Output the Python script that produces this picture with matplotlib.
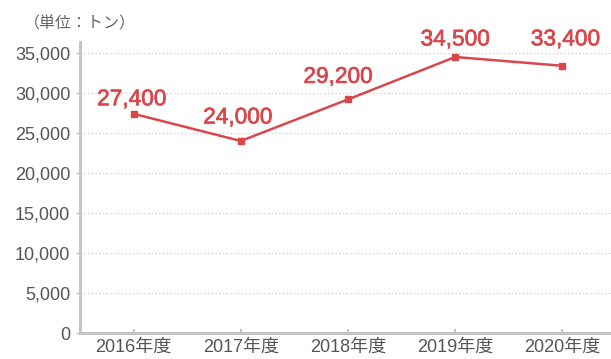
import matplotlib
matplotlib.use("Agg")
import matplotlib.pyplot as plt
import matplotlib.patheffects as pe
from matplotlib.ticker import FuncFormatter

plt.rcParams['font.family'] = ['Liberation Sans', 'Noto Sans CJK JP', 'DejaVu Sans']

# Data
years = ["2016年度", "2017年度", "2018年度", "2019年度", "2020年度"]
tonnes = [27400, 24000, 29200, 34500, 33400]
y_ticks = [0, 5000, 10000, 15000, 20000, 25000, 30000, 35000]
unit_label = "（単位：トン）"

# Label offsets (points) from each point to its value label centre
label_offsets = [(-1.4, 10.8), (-2.2, 17.3), (-7.2, 16.6), (0, 13.0), (2.2, 19.4)]

RED = "#d9474b"
GRAY_TXT = "#555555"
AXIS_GRAY = "#c4c4c4"

fig = plt.figure(figsize=(6.11, 3.59), dpi=100)
ax = fig.add_axes([80 / 611, 26 / 359, 536 / 611, 291 / 359])

x = list(range(len(years)))
ax.plot(x, tonnes, color=RED, linewidth=1.8, marker='s', markersize=4.2,
        markerfacecolor=RED, markeredgecolor=RED, zorder=3, clip_on=False)

for xi, v, (dx, dy) in zip(x, tonnes, label_offsets):
    ax.annotate(f"{v:,}", (xi, v), xytext=(dx, dy), textcoords='offset points',
                ha='center', va='center', color=RED, fontsize=16.3,
                annotation_clip=False,
                path_effects=[pe.withStroke(linewidth=0.5, foreground=RED)])

ax.set_xlim(-0.5, 4.5)
ax.set_ylim(0, 36375)
ax.set_yticks(y_ticks)
ax.yaxis.set_major_formatter(FuncFormatter(lambda v, p: f"{int(v):,}"))
ax.set_xticks(x)
ax.set_xticklabels(years)

ax.grid(axis='y', linestyle=(0, (1, 2)), color='#c8c8c8', linewidth=0.9)
ax.set_axisbelow(True)

for side in ('top', 'right'):
    ax.spines[side].set_visible(False)
for side in ('left', 'bottom'):
    ax.spines[side].set_color(AXIS_GRAY)
    ax.spines[side].set_linewidth(2.2)

ax.tick_params(axis='y', direction='out', length=3, width=1, color='#bbbbbb',
               labelsize=13, labelcolor=GRAY_TXT, pad=4)
ax.tick_params(axis='x', direction='in', length=3, width=1.5, color=AXIS_GRAY,
               labelsize=13, labelcolor=GRAY_TXT, pad=4)

fig.text(24 / 611, 1 - 24 / 359, unit_label, fontsize=11.5, color='#666666',
         ha='left', va='center')

fig.savefig("out.png", dpi=100)
